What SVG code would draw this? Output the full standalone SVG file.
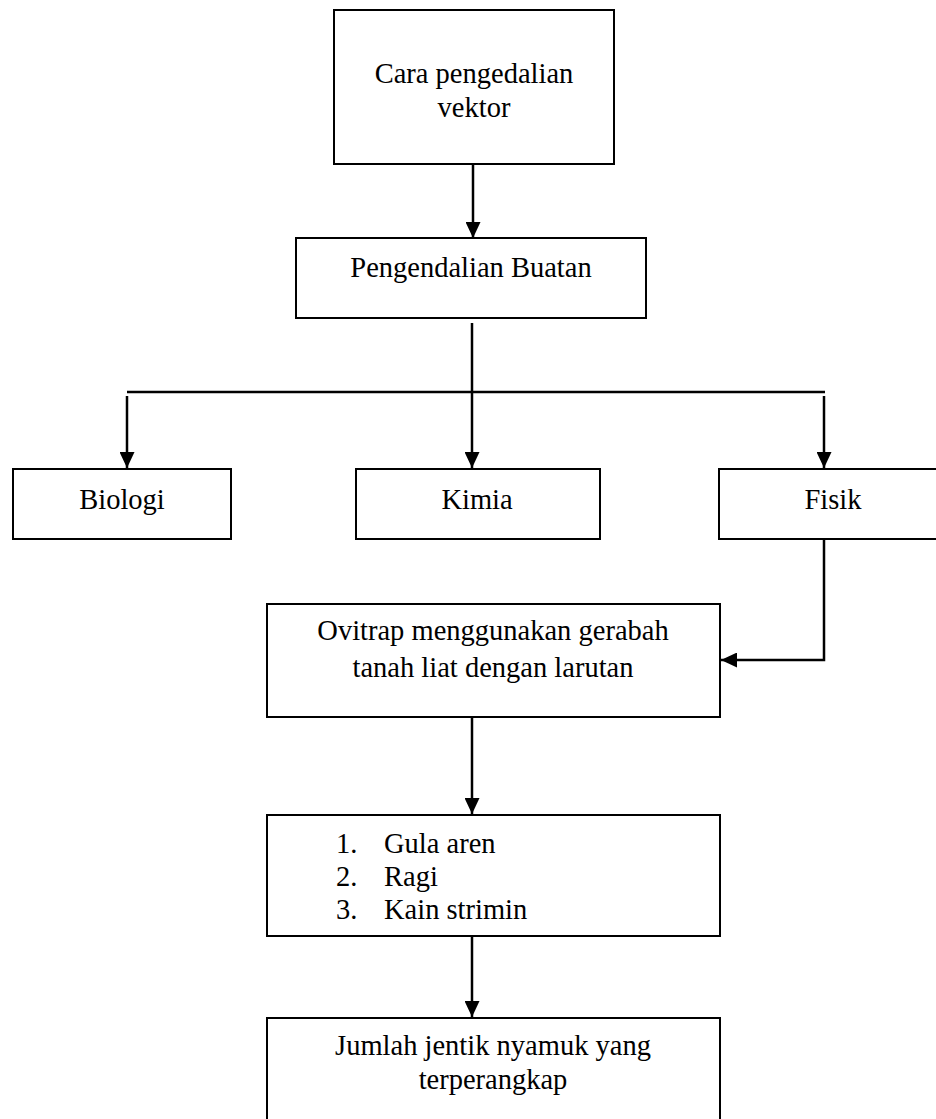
<svg xmlns="http://www.w3.org/2000/svg" width="936" height="1119" viewBox="0 0 936 1119">
<defs>
<marker id="ah" viewBox="0 0 16 15" refX="16" refY="7.5" markerWidth="16" markerHeight="15" markerUnits="userSpaceOnUse" orient="auto">
<path d="M0,0 L16,7.5 L0,15 Z" fill="#000"/>
</marker>
<style>
.box{fill:#fff;stroke:#000;stroke-width:2}
.t{font-family:"Liberation Serif","Times New Roman",serif;font-size:28.5px;fill:#000}
.c{text-anchor:middle}
.ln{fill:none;stroke:#000;stroke-width:2.5}
</style>
</defs>
<rect width="936" height="1119" fill="#fff"/>
<g id="connectors">
<line class="ln" x1="473" y1="164" x2="473" y2="238" marker-end="url(#ah)"/>
<line class="ln" x1="472" y1="323" x2="472" y2="468" marker-end="url(#ah)"/>
<line class="ln" x1="127" y1="392" x2="825" y2="392"/>
<line class="ln" x1="127" y1="396" x2="127" y2="468" marker-end="url(#ah)"/>
<line class="ln" x1="824" y1="396" x2="824" y2="468" marker-end="url(#ah)"/>
<polyline class="ln" points="824,539 824,660 721,660" marker-end="url(#ah)"/>
<line class="ln" x1="472" y1="717" x2="472" y2="814" marker-end="url(#ah)"/>
<line class="ln" x1="472" y1="936" x2="472" y2="1017" marker-end="url(#ah)"/>
</g>
<g id="n-cara">
<rect class="box" x="334" y="10" width="280" height="154"/>
<text class="t c" x="474" y="83">Cara pengedalian</text>
<text class="t c" x="474" y="117">vektor</text>
</g>
<g id="n-buatan">
<rect class="box" x="296" y="238" width="350" height="80"/>
<text class="t c" x="471" y="277">Pengendalian Buatan</text>
</g>
<g id="n-biologi">
<rect class="box" x="13" y="469" width="218" height="70"/>
<text class="t c" x="122" y="509">Biologi</text>
</g>
<g id="n-kimia">
<rect class="box" x="356" y="469" width="244" height="70"/>
<text class="t c" x="477" y="509">Kimia</text>
</g>
<g id="n-fisik">
<rect class="box" x="719" y="469" width="228" height="70"/>
<text class="t c" x="833" y="509">Fisik</text>
</g>
<g id="n-ovitrap">
<rect class="box" x="267" y="604" width="453" height="113"/>
<text class="t c" x="493" y="640">Ovitrap menggunakan gerabah</text>
<text class="t c" x="493" y="677">tanah liat dengan larutan</text>
</g>
<g id="n-list">
<rect class="box" x="267" y="815" width="453" height="121"/>
<text class="t" x="336" y="853">1.</text>
<text class="t" x="384" y="853">Gula aren</text>
<text class="t" x="336" y="886">2.</text>
<text class="t" x="384" y="886">Ragi</text>
<text class="t" x="336" y="919">3.</text>
<text class="t" x="384" y="919">Kain strimin</text>
</g>
<g id="n-jumlah">
<rect class="box" x="267" y="1018" width="453" height="120"/>
<text class="t c" x="493" y="1055">Jumlah jentik nyamuk yang</text>
<text class="t c" x="493" y="1089">terperangkap</text>
</g>
</svg>
